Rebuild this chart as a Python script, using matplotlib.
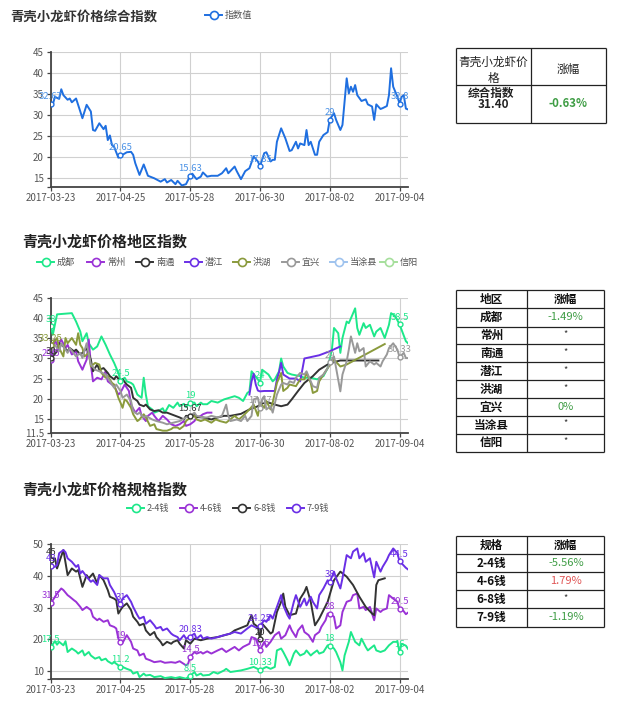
import matplotlib
matplotlib.use('Agg')
import matplotlib.pyplot as plt
import pandas as pd

plt.rcParams['font.family'] = ['Noto Sans CJK SC', 'DejaVu Sans']

W, H = 631, 715
START = pd.Timestamp('2017-03-23')
LAST_DAY = 169
X_TICK_LABELS = ['2017-03-23', '2017-04-25', '2017-05-28', '2017-06-30', '2017-08-02', '2017-09-04']

# ---------------- chart 1: composite index (day offset, value) ----------------
COMPOSITE = [(0,32.67),(1,32.6),(2,34.4),(4,33.9),(5,36.2),(6,34.8),(8,33.7),(9,34.0),(10,33.1),(12,34.0),
             (14,30.9),(15,29.3),(17,32.5),(19,30.9),(20,26.5),(21,26.3),(23,28.1),(25,26.7),(26,27.5),(27,24.1),
             (28,25.2),(29,22.9),(30,22.5),(32,19.9),(33,20.65),(34,20.6),(36,21.2),(38,21.3),(39,20.6),(40,18.6),
             (42,15.8),(44,18.3),(46,15.6),(48,15.2),(49,15.0),(52,14.2),(54,14.8),(55,14.0),(57,14.6),(59,13.6),
             (60,14.4),(62,13.3),(64,13.6),(66,15.63),(67,16.1),(68,15.4),(69,14.8),(71,15.4),(72,16.4),(74,15.4),
             (76,15.6),(79,15.6),(81,16.2),(83,17.4),(84,16.2),(87,17.8),(88,16.7),(90,14.8),(92,16.7),(94,17.4),
             (96,20.2),(98,19.0),(99,17.85),(101,21.0),(102,21.2),(104,19.0),(105,19.4),(106,19.4),(107,23.7),(109,26.9),
             (111,24.5),(113,21.5),(114,21.7),(116,23.7),(117,22.1),(118,23.3),(120,22.9),(121,26.5),(122,22.9),(123,23.7),
             (125,20.6),(126,20.6),(127,23.7),(129,25.3),(131,26.0),(132,29),(134,30.5),(135,28.9),(137,26.5),(138,27.7),
             (140,38.8),(141,35.2),(142,36.8),(143,35.6),(144,37.2),(145,34.8),(147,33.4),(149,33.8),(150,32.6),(152,32.1),
             (153,28.9),(154,32.6),(156,31.5),(157,31.7),(159,32.2),(160,34.8),(161,41.2),(162,36.8),(164,34.4),(165,32.8),
             (166,34.4),(167,34.8),(168,31.6),(169,31.4)]

# ---------------- chart 2: regional indices ----------------
CHENGDU = [(0,38),(1,35.9),(3,41.0),(10,41.3),(12,39.2),(14,36.7),(15,34.3),(17,36.3),(18,33.8),(20,32.2),(22,33.0),
           (24,35.5),(26,33.4),(28,31.0),(30,28.9),(32,26.4),(33,24.5),(35,25.2),(36,24.3),(38,23.9),(39,23.5),(41,21.0),
           (43,20.2),(44,25.2),(45,21.0),(46,18.1),(48,17.3),(49,16.5),(51,16.9),(53,17.6),(54,16.5),(56,18.4),(58,17.7),
           (60,19.0),(61,18.1),(63,18.7),(64,17.9),(66,19),(68,19.0),(69,18.1),(71,19.0),(72,18.6),(74,18.6),(76,19.4),
           (79,19.0),(82,19.8),(87,20.6),(89,20.2),(91,19.4),(93,21.4),(94,21.8),(95,26.8),(98,24.8),(99,24),(100,27.2),
           (102,26.4),(103,26.0),(105,24.3),(106,24.8),(108,26.8),(109,30.0),(110,28.0),(112,26.4),(114,26.0),(118,25.6),
           (120,25.2),(123,25.2),(126,24.8),(129,25.6),(131,27.6),(133,32.2),(134,37.6),(136,36.3),(137,31.4),(138,35.1),
           (140,39.2),(141,38.8),(142,40.0),(144,42.5),(145,37.6),(146,35.9),(148,38.8),(149,37.6),(151,38.4),(153,35.5),
           (154,36.7),(156,37.6),(158,35.1),(160,38.4),(161,41.3),(163,40.5),(165,38.5),(166,37.1),(168,34.3),(169,33.8)]
CHANGZHOU = [(0,29.5),(1,31.8),(2,34.7),(3,33.4),(4,33.8),(5,34.7),(7,32.6),(8,33.4),(10,31.0),(12,31.8),(13,29.3),
             (15,27.2),(16,28.5),(17,29.7),(18,34.7),(19,28.5),(20,24.3),(22,25.2),(24,24.8),(26,26.8),(27,24.3),(29,23.5),
             (30,23.1),(32,21.0),(33,21.5),(35,23.5),(37,21.9),(38,18.5),(40,16.5),(42,17.7),(43,15.7),(45,14.4),(46,15.7),
             (48,16.5),(49,15.7),(51,14.4),(53,15.7),(55,14.8),(57,13.6),(59,13.2),(61,13.6),(63,14.4),(64,13.2),(66,13.6),
             (68,14.4),(69,15.3),(71,15.7),(72,16.1),(74,16.5),(76,16.5)]
NANTONG = [(0,30),(1,30.5),(3,31.8),(4,33.8),(6,33.0),(8,31.8),(9,32.6),(11,31.8),(12,32.2),(14,31.0),(15,31.4),
           (17,32.6),(19,29.7),(20,26.8),(22,28.5),(23,27.2),(25,27.6),(27,26.4),(28,25.6),(30,24.8),(31,25.6),(33,24.3),
           (34,24.8),(36,23.5),(38,22.7),(39,20.2),(41,19.4),(42,18.5),(44,18.1),(45,18.5),(47,17.3),(49,16.9),(51,17.1),
           (53,16.5),(55,16.5),(57,16.1),(59,15.7),(61,15.3),(63,14.8),(64,15.7),(66,15.67),(68,15.9),(69,15.4),(72,15.3),
           (76,14.8),(79,15.3),(82,15.7),(85,15.7),(90,16.2),(94,17.3),(98,18.1),(99,18.5),(102,19.2),(106,18.5),
           (109,18.1),(112,18.5),(114,19.8),(117,21.9),(120,23.9),(124,25.6),(127,27.2),(131,28.5),(134,29.1),
           (137,29.5),(143,29.5),(155,29.5)]
QIANJIANG = [(94,21.0),(95,24.3),(96,26.2),(97,23.5),(98,22.0),(99,21.8),(101,21.9),(104,21.9),(106,21.9),(107,24.8),
             (108,26.6),(109,28.9),(110,26.0),(113,25.0),(116,25.0),(118,24.3),(120,30.0),(127,30.8),(132,31.8),(137,33.0)]
HONGHU = [(0,33.25),(1,33.8),(3,35.1),(4,32.6),(6,30.5),(7,35.1),(8,33.8),(10,35.1),(12,33.4),(13,36.3),(14,33.4),
          (15,32.6),(16,30.5),(18,31.4),(19,28.0),(21,28.9),(23,28.5),(24,26.4),(26,25.2),(27,25.6),(29,23.9),(30,23.5),
          (32,20.2),(33,19.0),(34,17.7),(35,19.8),(36,19.4),(38,17.7),(39,16.1),(41,14.4),(42,14.8),(44,16.1),(45,15.3),
          (47,13.2),(49,13.6),(50,12.4),(53,12.0),(55,12.0),(57,12.4),(58,12.8),(60,12.8),(61,12.4),(63,13.2),(64,14.4),
          (66,15.3),(68,15.7),(69,14.8),(71,14.4),(73,14.8),(76,14.0),(78,14.8),(80,14.4),(83,14.0),(87,15.7),(89,14.8),
          (91,15.7),(94,17.3),(96,18.5),(98,15.7),(99,19.0),(101,17.7),(102,19.4),(104,17.3),(105,19.0),(107,23.9),
          (109,26.4),(110,21.9),(112,22.7),(113,23.5),(116,23.1),(118,24.8),(120,24.8),(121,26.4),(123,23.9),(124,21.4),
          (126,21.9),(127,24.3),(129,26.0),(131,27.6),(134,29.7),(137,28.0),(140,28.5),(158,33.6)]
YIXING = [(0,31.5),(2,33.4),(4,31.8),(5,33.8),(8,31.4),(9,32.6),(12,30.5),(14,31.4),(15,30.1),(17,33.8),(19,28.5),
          (21,27.2),(23,26.8),(26,26.0),(28,24.3),(30,22.7),(31,23.5),(33,21.9),(34,20.2),(36,21.0),(38,19.4),(39,16.9),
          (41,16.1),(42,16.5),(44,15.3),(45,15.7),(48,14.8),(50,14.4),(53,14.0),(55,13.6),(58,14.0),(61,14.4),(64,15.3),
          (66,15.7),(68,16.5),(69,15.7),(72,15.3),(74,15.3),(76,15.7),(79,15.3),(81,15.7),(83,18.5),(84,15.7),(85,14.4),
          (88,14.8),(90,14.4),(92,15.7),(93,14.4),(95,15.7),(96,19.8),(98,20.2),(99,17.67),(100,19.8),(101,20.6),
          (102,17.3),(104,18.1),(105,16.5),(107,21.0),(109,23.5),(110,23.9),(112,23.5),(113,24.3),(115,23.9),(116,25.2),
          (118,26.4),(120,26.0),(121,26.8),(123,24.3),(124,23.1),(126,22.7),(127,25.2),(129,26.0),(131,27.6),(132,29),
          (134,30.5),(135,27.6),(137,21.8),(138,26.0),(140,29.3),(141,32.2),(142,35.5),(144,31.4),(145,33.8),(146,31.8),
          (148,32.6),(149,28.0),(151,29.3),(153,28.5),(154,28.9),(156,28.0),(157,29.3),(159,31.0),(160,32.6),(162,33.8),
          (164,32.2),(165,30.33),(167,31.4),(168,30.1),(169,30.1)]
DANGTU = []
XINYANG = []

REGION_NAMES = ['成都', '常州', '南通', '潜江', '洪湖', '宜兴', '当涂县', '信阳']
REGION_DATA = [CHENGDU, CHANGZHOU, NANTONG, QIANJIANG, HONGHU, YIXING, DANGTU, XINYANG]
REGION_LABEL_DAYS = [[0, 33, 66, 99, 165], [0], [0, 66], [], [0], [99, 132, 165], [], []]

# ---------------- chart 3: size-grade indices ----------------
G24 = [(0,17.5),(2,19.4),(3,18.3),(4,19.2),(6,18.1),(7,19.4),(8,16.0),(10,17.1),(12,16.2),(13,15.5),(15,16.5),
       (16,14.9),(18,16.0),(19,14.9),(21,13.9),(23,14.4),(24,13.4),(26,13.9),(27,13.1),(29,12.3),(30,12.8),(32,11.8),
       (33,11.2),(34,11.3),(36,10.7),(38,10.2),(39,9.2),(41,9.7),(42,8.1),(44,9.2),(45,8.6),(47,8.8),(49,8.1),(52,8.4),
       (54,7.8),(57,8.1),(59,7.8),(61,8.1),(64,7.6),(65,8.1),(66,8.5),(68,9.7),(69,8.6),(71,9.2),(72,8.6),(75,8.8),
       (77,9.7),(79,9.2),(82,10.2),(83,10.7),(85,9.7),(87,9.9),(90,10.2),(93,10.7),(96,11.3),(99,10.33),(102,11.3),
       (104,10.7),(106,11.3),(107,16.5),(109,17.1),(110,16.0),(112,13.4),(113,11.8),(115,15.5),(116,16.5),(118,14.9),
       (120,15.5),(121,16.5),(123,14.9),(124,15.5),(126,16.5),(127,15.5),(129,16.0),(131,18.1),(132,18),(134,17.1),
       (135,16.0),(137,12.8),(138,10.2),(139,14.9),(141,19.2),(142,22.3),(144,19.2),(146,18.1),(147,20.2),(149,17.6),
       (150,16.5),(153,18.1),(154,16.5),(156,16.0),(158,16.5),(160,18.1),(162,19.2),(164,19.2),(165,16),(166,18.6),
       (168,18.0),(169,17.0)]
G46 = [(0,31.5),(1,32.3),(3,34.4),(5,36.0),(6,35.5),(8,33.9),(9,33.4),(11,32.3),(12,31.8),(14,30.2),(15,29.2),
       (17,30.2),(19,29.2),(20,27.1),(22,26.0),(23,26.5),(25,25.5),(27,26.0),(28,24.4),(30,23.9),(31,23.4),(32,20.2),
       (33,19),(34,18.9),(36,21.3),(38,19.2),(39,17.1),(41,16.5),(42,14.9),(44,15.5),(45,13.9),(47,13.4),(49,12.8),
       (52,13.1),(54,12.6),(57,12.8),(59,12.6),(61,13.1),(64,11.8),(65,12.3),(66,14.5),(68,16.0),(69,15.5),(71,16.0),
       (72,15.5),(74,16.2),(76,15.5),(79,16.5),(81,17.1),(83,16.0),(87,17.6),(89,16.5),(91,17.6),(94,18.6),(95,20.7),
       (97,20.2),(99,16.5),(101,19.2),(102,17.6),(104,19.2),(106,21.3),(108,22.3),(109,20.2),(111,21.3),(113,24.4),
       (114,22.8),(116,20.7),(117,22.8),(119,24.4),(120,22.3),(122,21.3),(124,19.2),(125,21.3),(127,22.3),(128,23.9),
       (130,26.0),(131,28.1),(132,28),(134,27.1),(135,23.4),(137,24.4),(138,28.6),(140,31.8),(142,32.3),(143,33.9),
       (145,34.4),(146,29.7),(148,30.2),(149,29.2),(151,30.2),(153,26.0),(154,29.7),(156,28.6),(157,29.2),(159,29.7),
       (160,33.9),(162,32.8),(164,31.8),(165,29.5),(166,29.7),(168,27.9),(169,28.4)]
G68 = [(0,45),(2,45.5),(3,42.3),(6,48.1),(8,40.2),(10,42.3),(12,41.3),(13,41.8),(15,36.5),(17,40.2),(18,39.2),
       (20,40.7),(22,37.6),(23,40.2),(25,38.6),(27,35.5),(28,33.4),(30,32.8),(31,32.3),(32,28.1),(33,29.2),(34,30.2),
       (36,31.3),(38,29.2),(39,27.1),(41,25.5),(42,24.4),(44,24.9),(45,22.8),(47,21.3),(49,22.3),(50,20.7),(52,19.2),
       (53,18.1),(55,19.2),(57,18.6),(58,19.2),(60,19.7),(61,18.6),(63,17.1),(64,19.7),(66,18.6),(68,20.2),(71,19.7),
       (74,20.2),(79,20.7),(85,21.8),(87,22.8),(93,24.4),(95,27.6),(96,24.9),(98,23.9),(99,20),(100,24.9),(102,23.4),
       (104,21.8),(105,22.3),(107,28.6),(109,31.8),(110,34.4),(111,30.2),(113,27.6),(116,28.1),(118,32.8),(120,34.9),
       (121,36.5),(123,31.8),(125,24.4),(127,26.5),(131,31.8),(134,38.6),(137,41.3),(140,39.7),(143,37.1),(146,33.4),
       (149,30.2),(152,28.1),(153,27.6),(154,37.1),(155,38.6),(158,39.2)]
G79 = [(0,43),(2,42.8),(3,43.4),(4,47.1),(6,48.1),(7,47.4),(8,45.5),(10,44.4),(12,42.8),(13,43.4),(14,40.7),
       (15,41.5),(17,39.7),(19,38.1),(20,38.6),(22,37.1),(23,40.2),(25,39.2),(27,39.2),(28,37.1),(30,34.9),(31,33.4),
       (33,31),(34,32.8),(36,33.9),(38,31.8),(39,30.2),(41,27.6),(42,26.5),(44,27.1),(45,24.9),(47,26.0),(49,24.4),
       (50,23.4),(52,23.9),(53,22.8),(55,23.4),(57,21.8),(58,21.3),(60,20.7),(61,19.7),(63,21.3),(64,20.2),(66,20.83),
       (68,21.8),(69,20.2),(71,21.3),(72,20.2),(74,20.7),(76,20.2),(79,20.7),(82,21.3),(85,21.8),(87,22.3),(90,21.8),
       (93,23.4),(95,24.4),(98,23.4),(99,24.25),(101,26.0),(102,25.5),(104,27.6),(105,26.5),(107,30.2),(109,33.9),
       (110,30.7),(112,27.6),(113,26.5),(115,31.8),(116,33.9),(118,30.2),(120,32.8),(121,30.7),(123,33.4),(124,31.8),
       (126,29.7),(127,33.9),(129,36.0),(131,38.6),(132,38),(134,41.3),(135,39.2),(137,36.0),(138,39.2),(140,46.5),
       (142,45.5),(143,47.6),(145,48.6),(146,45.5),(148,47.1),(149,44.4),(151,45.5),(153,39.5),(154,44.4),(156,41.3),
       (157,42.8),(159,45.0),(160,46.5),(162,48.6),(164,47.1),(165,44.5),(166,43.9),(168,42.5),(169,42.0)]

GRADE_NAMES = ['2-4钱', '4-6钱', '6-8钱', '7-9钱']
GRADE_DATA = [G24, G46, G68, G79]
GRADE_LABEL_DAYS = [[0, 33, 66, 99, 132, 165], [0, 33, 66, 99, 132, 165], [0, 99], [0, 33, 66, 99, 132, 165]]

# ---------------- tables ----------------
TABLE1_HEADER = ['青壳小龙虾价格', '涨幅']
TABLE1_NAME = '综合指数'
TABLE1_VALUE = '31.40'
TABLE1_CHANGE = '-0.63%'
REGION_CHANGES = ['-1.49%', '*', '*', '*', '*', '0%', '*', '*']
GRADE_CHANGES = ['-5.56%', '1.79%', '*', '-1.19%']

# ---------------- styles ----------------
BLUE = '#1f6fe0'
REGION_COLORS = ['#1de88a', '#9a32d6', '#333333', '#6a2fe6', '#8a9a3c', '#999999', '#9fc3ee', '#a6df9c']
GRADE_COLORS = ['#1de88a', '#9a32d6', '#333333', '#6a2fe6']
GREEN_TXT = '#3f9d45'
RED_TXT = '#e05555'

fig = plt.figure(figsize=(W / 100, H / 100), dpi=100)
fig.patch.set_facecolor('white')


def to_dates(days):
    return [START + pd.Timedelta(days=int(d)) for d in days]


def make_axes(top, bottom, ymin, ymax, yticks, ylabels):
    left, right = 50.7, 408.0
    ax = fig.add_axes([left / W, 1 - bottom / H, (right - left) / W, (bottom - top) / H])
    ax.set_xlim(START, START + pd.Timedelta(days=LAST_DAY))
    ax.set_ylim(ymin, ymax)
    ax.set_xticks(pd.to_datetime(X_TICK_LABELS))
    ax.set_xticklabels(X_TICK_LABELS)
    ax.set_yticks(yticks)
    ax.set_yticklabels(ylabels)
    ax.grid(True, color='#d0d0d0', lw=0.8)
    ax.set_axisbelow(True)
    for s in ('top', 'right'):
        ax.spines[s].set_visible(False)
    for s in ('left', 'bottom'):
        ax.spines[s].set_color('#444444')
        ax.spines[s].set_linewidth(1.3)
    ax.tick_params(axis='both', colors='#444444', labelcolor='#555555', labelsize=7, length=3, width=0.9)
    ax.tick_params(axis='y', pad=2)
    ax.tick_params(axis='x', pad=1.5)
    return ax


def draw_series(ax, pts, color, label_days, label_color=None):
    if not pts:
        return
    days = [p[0] for p in pts]
    vals = [p[1] for p in pts]
    ax.plot(to_dates(days), vals, color=color, lw=1.4, solid_joinstyle='round', zorder=3)
    for d in label_days:
        if d in days:
            v = vals[days.index(d)]
            x = to_dates([d])[0]
            ax.plot([x], [v], 'o', ms=3.5, mfc='white', mec=color, mew=1.0, zorder=4)
            ax.annotate(f'{v:g}', (x, v), xytext=(0, 2), textcoords='offset points',
                        ha='center', va='bottom', fontsize=6.8, color=label_color or color,
                        zorder=5, annotation_clip=False)


# chart 1
ax1 = make_axes(52.3, 186.7, 13, 45, [13, 15, 20, 25, 30, 35, 40, 45], ['', '15', '20', '25', '30', '35', '40', '45'])
draw_series(ax1, COMPOSITE, BLUE, [0, 33, 66, 99, 132, 165], label_color='#4b92e6')

# chart 2
ax2 = make_axes(298.3, 432.7, 11.5, 45, [11.5, 15, 20, 25, 30, 35, 40, 45],
                ['11.5', '15', '20', '25', '30', '35', '40', '45'])
for pts, col, ld in zip(REGION_DATA, REGION_COLORS, REGION_LABEL_DAYS):
    draw_series(ax2, pts, col, ld)

# chart 3
ax3 = make_axes(544.0, 679.0, 7.5, 50, [7.5, 10, 20, 30, 40, 50], ['', '10', '20', '30', '40', '50'])
for pts, col, ld in zip(GRADE_DATA, GRADE_COLORS, GRADE_LABEL_DAYS):
    draw_series(ax3, pts, col, ld)

# overlay in pixel coordinates
ov = fig.add_axes([0, 0, 1, 1], zorder=10)
ov.set_xlim(0, W)
ov.set_ylim(H, 0)
ov.axis('off')
ov.patch.set_visible(False)


def legend_item(x, y, color, text):
    ov.plot([x, x + 17], [y, y], color=color, lw=1.4)
    ov.plot([x + 8.5], [y], 'o', ms=5.8, mfc='white', mec=color, mew=1.2)
    ov.text(x + 20, y, text, fontsize=6.6, color='#555555', va='center', ha='left')


# titles
ov.text(10, 18, '青壳小龙虾价格综合指数', fontsize=9.6, fontweight='bold', color='#333333', va='center', ha='left')
ov.text(22, 242, '青壳小龙虾价格地区指数', fontsize=10.8, fontweight='bold', color='#222222', va='center', ha='left')
ov.text(22, 490, '青壳小龙虾价格规格指数', fontsize=10.8, fontweight='bold', color='#222222', va='center', ha='left')

# legends
legend_item(205, 15, BLUE, '指数值')
reg_x = [37, 87, 136, 185, 233, 282, 330, 380]
for x, col, name in zip(reg_x, REGION_COLORS, REGION_NAMES):
    legend_item(x, 262, col, name)
grade_x = [127, 180, 233, 287]
for x, col, name in zip(grade_x, GRADE_COLORS, GRADE_NAMES):
    legend_item(x, 508, col, name)


def hline(x0, x1, y):
    ov.plot([x0, x1], [y, y], color='#222222', lw=0.9, solid_capstyle='butt')


def vline(x, y0, y1):
    ov.plot([x, x], [y0, y1], color='#222222', lw=0.9, solid_capstyle='butt')


def change_color(s):
    if s == '*':
        return '#333333'
    if s.startswith('-') or s == '0%':
        return GREEN_TXT
    return RED_TXT


# table 1
tl, tr, tt, tb, tm, th = 455.7, 605.7, 48.3, 123.3, 530.7, 85.0
for y in (tt, th, tb):
    hline(tl, tr, y)
for x in (tl, tm, tr):
    vline(x, tt, tb)
ov.text((tl + tm) / 2, 62.5, TABLE1_HEADER[0][:6], fontsize=8.4, color='#222222', ha='center', va='center')
ov.text((tl + tm) / 2, 78.5, TABLE1_HEADER[0][6:], fontsize=8.4, color='#222222', ha='center', va='center')
ov.text((tm + tr) / 2, 69, TABLE1_HEADER[1], fontsize=8.4, color='#222222', ha='center', va='center')
ov.text((tl + tm) / 2 - 2, 93, TABLE1_NAME, fontsize=8.4, color='#222222', ha='center', va='center', fontweight='bold')
ov.text((tl + tm) / 2, 104, TABLE1_VALUE, fontsize=8.4, color='#222222', ha='center', va='center', fontweight='bold')
ov.text((tm + tr) / 2, 103.5, TABLE1_CHANGE, fontsize=8.2, color=GREEN_TXT, ha='center', va='center', fontweight='bold')


def side_table(top, lines, mid, names, changes, header_left):
    left, right = 455.7, 604.3
    for y in lines:
        hline(left, right, y)
    for x in (left, mid, right):
        vline(x, lines[0], lines[-1])
    centers = [(a + b) / 2 for a, b in zip(lines[:-1], lines[1:])]
    ov.text((left + mid) / 2, centers[0], header_left, fontsize=8.4, fontweight='bold', color='#111111',
            ha='center', va='center')
    ov.text((mid + right) / 2, centers[0], '涨幅', fontsize=8.4, fontweight='bold', color='#111111',
            ha='center', va='center')
    for c, n, ch in zip(centers[1:], names, changes):
        ov.text((left + mid) / 2, c, n, fontsize=8.4, fontweight='bold', color='#111111', ha='center', va='center')
        ov.text((mid + right) / 2, c - (2 if ch == '*' else 0), ch, fontsize=8.0 if ch != '*' else 6.5,
                color=change_color(ch), ha='center', va='center')


side_table(290, [290.0, 308.3, 326.7, 344.3, 362.3, 380.3, 398.3, 416.0, 434.0, 451.7], 527.3,
           REGION_NAMES, REGION_CHANGES, '地区')
side_table(536, [536.0, 554.3, 572.3, 590.3, 608.3, 626.7], 527.3, GRADE_NAMES, GRADE_CHANGES, '规格')

fig.savefig('out.png', dpi=100, facecolor='white')
